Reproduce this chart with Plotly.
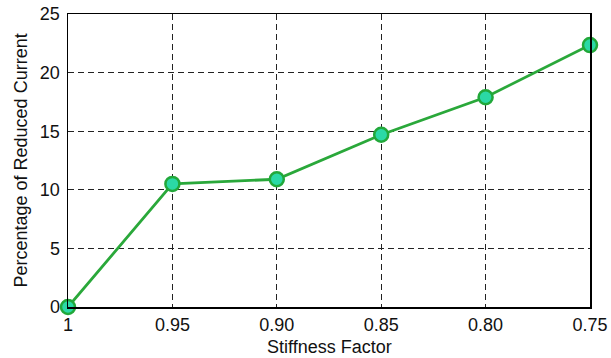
import plotly.graph_objects as go

x_labels = ["1", "0.95", "0.90", "0.85", "0.80", "0.75"]
x_pos = [0, 1, 2, 3, 4, 5]
reduced_current = [0, 10.5, 10.9, 14.7, 17.9, 22.35]
y_ticks = [0, 5, 10, 15, 20, 25]

FONT = "Liberation Sans, Arial, sans-serif"
L, R, T, B = 68, 21, 14, 51
W, H = 611, 358
pw, ph = W - L - R, H - T - B

fig = go.Figure()
fig.add_trace(go.Scatter(
    x=x_pos, y=reduced_current, mode="lines+markers",
    line=dict(color="#2aa83a", width=2.8),
    marker=dict(size=14, color="#2bd9a6", line=dict(color="#22a83a", width=2.5)),
    cliponaxis=False, showlegend=False, hoverinfo="skip",
))

fig.update_layout(
    width=W, height=H,
    margin=dict(l=L, r=R, t=T, b=B, autoexpand=False),
    paper_bgcolor="white", plot_bgcolor="white",
    font=dict(family=FONT, size=18, color="#111"),
)
fig.update_xaxes(
    range=[0, 5], tickvals=x_pos, ticktext=x_labels,
    showgrid=True, gridcolor="#222", griddash="6px,4px", gridwidth=1,
    showline=True, linecolor="black", linewidth=1.5, mirror=True,
    zeroline=False, ticks="", automargin=False, ticklabelstandoff=1,
)
fig.update_yaxes(
    range=[0, 25], tickvals=y_ticks,
    showgrid=True, gridcolor="#222", griddash="6px,4px", gridwidth=1,
    showline=True, linecolor="black", linewidth=1.5, mirror=True,
    zeroline=False, ticks="", automargin=False, ticklabelstandoff=3,
)
fig.add_annotation(
    text="Stiffness Factor", xref="paper", yref="paper",
    x=0.5, y=(307 - 347) / ph, xanchor="center", yanchor="middle",
    showarrow=False, font=dict(family=FONT, size=18, color="#111"),
)
fig.add_annotation(
    text="Percentage of Reduced Current", xref="paper", yref="paper",
    x=(20 - L) / pw, y=0.5, xanchor="center", yanchor="middle", textangle=-90,
    showarrow=False, font=dict(family=FONT, size=18, color="#111"),
)
fig.write_html(
    "out.html",
    config={"displayModeBar": False, "staticPlot": True},
    post_script="document.body.style.margin='0';document.body.style.padding='0';",
)
